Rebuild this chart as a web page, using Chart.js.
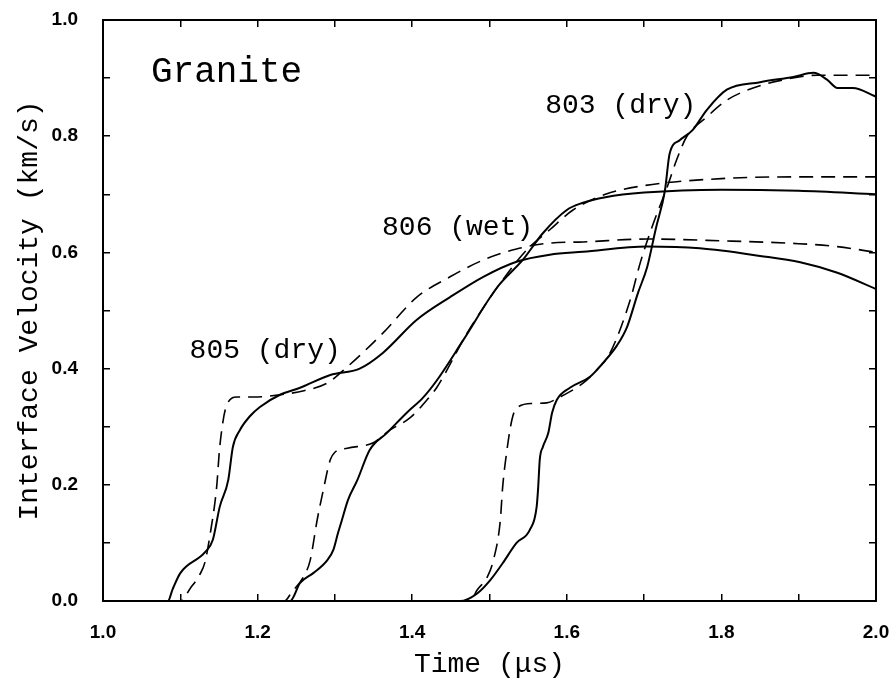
<!DOCTYPE html>
<html>
<head>
<meta charset="utf-8">
<title>Granite - Interface Velocity</title>
<script src="https://cdn.jsdelivr.net/npm/chart.js@4.4.1/dist/chart.umd.min.js"></script>
<style>
  html, body { margin: 0; padding: 0; background: #fff; }
  #wrap { width: 894px; height: 681px; }
</style>
</head>
<body>
<div id="wrap"><canvas id="granChart" width="894" height="681"></canvas></div>
<script>
// --- DATA ---

// Shot 805 (dry)
const t805Meas = [1.0, 1.084, 1.09, 1.10, 1.132, 1.142, 1.151, 1.162, 1.168, 1.177, 1.19, 1.203, 1.229, 1.255, 1.294, 1.332, 1.362, 1.406, 1.449, 1.492, 1.535, 1.578, 1.621, 1.704, 1.772, 1.85, 1.902, 1.95, 2.0];
const v805Meas = [0, 0, 0.02, 0.048, 0.084, 0.105, 0.162, 0.208, 0.265, 0.294, 0.318, 0.334, 0.355, 0.367, 0.389, 0.40, 0.427, 0.484, 0.523, 0.558, 0.584, 0.596, 0.601, 0.61, 0.607, 0.594, 0.583, 0.565, 0.537];
const t805Calc = [1.0, 1.10, 1.113, 1.125, 1.132, 1.138, 1.147, 1.151, 1.16, 1.173, 1.194, 1.229, 1.26, 1.29, 1.316, 1.362, 1.406, 1.449, 1.492, 1.535, 1.578, 1.621, 1.704, 1.8, 1.9, 1.95, 2.0];
const v805Calc = [0, 0, 0.022, 0.045, 0.067, 0.11, 0.196, 0.265, 0.337, 0.351, 0.351, 0.355, 0.362, 0.375, 0.403, 0.461, 0.523, 0.558, 0.587, 0.606, 0.616, 0.618, 0.623, 0.62, 0.615, 0.61, 0.60];

// Shot 806 (wet)
const t806Meas = [1.0, 1.242, 1.255, 1.272, 1.29, 1.298, 1.304, 1.309, 1.317, 1.329, 1.345, 1.367, 1.393, 1.414, 1.432, 1.466, 1.51, 1.543, 1.569, 1.6, 1.62, 1.65, 1.7, 1.8, 1.9, 2.0];
const v806Meas = [0, 0, 0.031, 0.048, 0.07, 0.088, 0.117, 0.139, 0.174, 0.208, 0.26, 0.289, 0.324, 0.35, 0.38, 0.449, 0.54, 0.587, 0.633, 0.673, 0.685, 0.695, 0.703, 0.708, 0.706, 0.70];
const t806Calc = [1.0, 1.235, 1.244, 1.259, 1.268, 1.277, 1.285, 1.294, 1.30, 1.316, 1.349, 1.371, 1.397, 1.419, 1.432, 1.471, 1.514, 1.548, 1.578, 1.608, 1.65, 1.7, 1.8, 1.9, 2.0];
const v806Calc = [0, 0, 0.015, 0.041, 0.07, 0.139, 0.191, 0.243, 0.256, 0.263, 0.272, 0.294, 0.315, 0.346, 0.368, 0.461, 0.547, 0.604, 0.639, 0.673, 0.70, 0.715, 0.727, 0.73, 0.73];

// Shot 803 (dry)
const t803Meas = [1.0, 1.462, 1.484, 1.501, 1.517, 1.535, 1.552, 1.561, 1.563, 1.565, 1.569, 1.576, 1.581, 1.587, 1.604, 1.63, 1.647, 1.665, 1.678, 1.692, 1.704, 1.715, 1.727, 1.733, 1.746, 1.763, 1.781, 1.807, 1.85, 1.893, 1.919, 1.937, 1.95, 1.97, 2.0];
const v803Meas = [0, 0, 0.013, 0.036, 0.065, 0.10, 0.122, 0.162, 0.196, 0.243, 0.265, 0.289, 0.324, 0.346, 0.367, 0.386, 0.41, 0.44, 0.472, 0.53, 0.575, 0.64, 0.707, 0.77, 0.793, 0.811, 0.845, 0.88, 0.893, 0.902, 0.909, 0.897, 0.883, 0.883, 0.868];
const t803Calc = [1.0, 1.475, 1.484, 1.497, 1.505, 1.514, 1.517, 1.522, 1.529, 1.535, 1.556, 1.574, 1.591, 1.621, 1.639, 1.656, 1.682, 1.695, 1.712, 1.73, 1.742, 1.755, 1.781, 1.807, 1.841, 1.88, 1.924, 2.0];
const v803Calc = [0, 0, 0.019, 0.041, 0.07, 0.139, 0.196, 0.254, 0.312, 0.332, 0.34, 0.341, 0.351, 0.375, 0.398, 0.427, 0.518, 0.582, 0.65, 0.713, 0.759, 0.799, 0.833, 0.862, 0.883, 0.897, 0.905, 0.905];

// Text on the plot: [text, time, velocity]
const plotTitle = ["Granite", 1.062, 0.893];
const shotLabels = [
  ["803 (dry)", 1.572, 0.84],
  ["806 (wet)", 1.361, 0.63],
  ["805 (dry)", 1.112, 0.418],
];

// --- HELPERS ---

function pairs(ts, vs) {
  return ts.map((t, i) => ({ x: t, y: vs[i] }));
}

function measured(label, ts, vs) {
  return {
    label: label,
    data: pairs(ts, vs),
    borderColor: "#000",
    borderWidth: 2,
    pointRadius: 0,
    cubicInterpolationMode: "monotone",
  };
}

function calculated(label, ts, vs) {
  return {
    label: label,
    data: pairs(ts, vs),
    borderColor: "#000",
    borderWidth: 1.6,
    borderDash: [14, 8],
    pointRadius: 0,
    cubicInterpolationMode: "monotone",
  };
}

// label only every second tick (0.2 steps), minor ticks stay unlabeled
function everyOther(value) {
  const r = Math.round(value * 10);
  return r % 2 === 0 ? (r / 10).toFixed(1) : "";
}

// fixed box sizes; drop the label overhang so the plot frame lands where it should
function fixBox(w, h) {
  return (s) => {
    if (w !== null) s.width = w;
    if (h !== null) s.height = h;
    s.paddingTop = 0;
    s.paddingBottom = 0;
    s.paddingLeft = 0;
    s.paddingRight = 0;
  };
}

const tickFont = { family: "Liberation Sans", size: 19, weight: "bold" };
const titleFont = { family: "Liberation Mono", size: 28 };
const innerGrid = { drawOnChartArea: false, drawTicks: true, tickLength: -7, color: "#000", lineWidth: 1.5 };
const frame = { display: true, color: "#000", width: 2 };

// plugin: text written inside the plot area
const plotText = {
  id: "plotText",
  afterDatasetsDraw(chart) {
    const { ctx, scales } = chart;
    ctx.save();
    ctx.fillStyle = "#000";
    ctx.textAlign = "left";
    ctx.textBaseline = "alphabetic";
    ctx.font = "36px 'Liberation Mono'";
    ctx.fillText(plotTitle[0], scales.x.getPixelForValue(plotTitle[1]), scales.y.getPixelForValue(plotTitle[2]));
    ctx.font = "28px 'Liberation Mono'";
    shotLabels.forEach(([txt, t, v]) => {
      ctx.fillText(txt, scales.x.getPixelForValue(t), scales.y.getPixelForValue(v));
    });
    ctx.restore();
  },
};

// --- CHART ---

const ctx = document.getElementById("granChart").getContext("2d");

const granChart = new Chart(ctx, {
  type: "line",
  data: {
    datasets: [
      measured("805 measured", t805Meas, v805Meas),
      calculated("805 calculated", t805Calc, v805Calc),
      measured("806 measured", t806Meas, v806Meas),
      calculated("806 calculated", t806Calc, v806Calc),
      measured("803 measured", t803Meas, v803Meas),
      calculated("803 calculated", t803Calc, v803Calc),
    ],
  },
  options: {
    responsive: false,
    animation: false,
    layout: { padding: { top: 20, right: 18, left: 0, bottom: 0 } },
    plugins: { legend: { display: false }, tooltip: { enabled: false } },
    scales: {
      x: {
        type: "linear",
        position: "bottom",
        min: 1.0,
        max: 2.0,
        ticks: { stepSize: 0.1, autoSkip: false, maxRotation: 0, padding: 27, color: "#000", font: tickFont, callback: everyOther },
        grid: innerGrid,
        border: frame,
        title: { display: true, text: "Time (μs)", color: "#000", font: titleFont, padding: { top: 0, bottom: 0 } },
        afterFit: fixBox(null, 80),
      },
      y: {
        type: "linear",
        position: "left",
        min: 0,
        max: 1.0,
        ticks: { stepSize: 0.1, autoSkip: false, padding: 32, color: "#000", font: tickFont, callback: everyOther },
        grid: innerGrid,
        border: frame,
        title: { display: true, text: "Interface Velocity (km/s)", color: "#000", font: titleFont, padding: { top: 13, bottom: 0 } },
        afterFit: fixBox(103, null),
      },
      // top and right frame with inner ticks
      x2: {
        type: "linear",
        position: "top",
        min: 1.0,
        max: 2.0,
        ticks: { stepSize: 0.1, autoSkip: false, display: false },
        grid: innerGrid,
        border: frame,
        afterFit: fixBox(null, 0),
      },
      y2: {
        type: "linear",
        position: "right",
        min: 0,
        max: 1.0,
        ticks: { stepSize: 0.1, autoSkip: false, display: false },
        grid: innerGrid,
        border: frame,
        afterFit: fixBox(0, null),
      },
    },
  },
  plugins: [plotText],
});
</script>
</body>
</html>
